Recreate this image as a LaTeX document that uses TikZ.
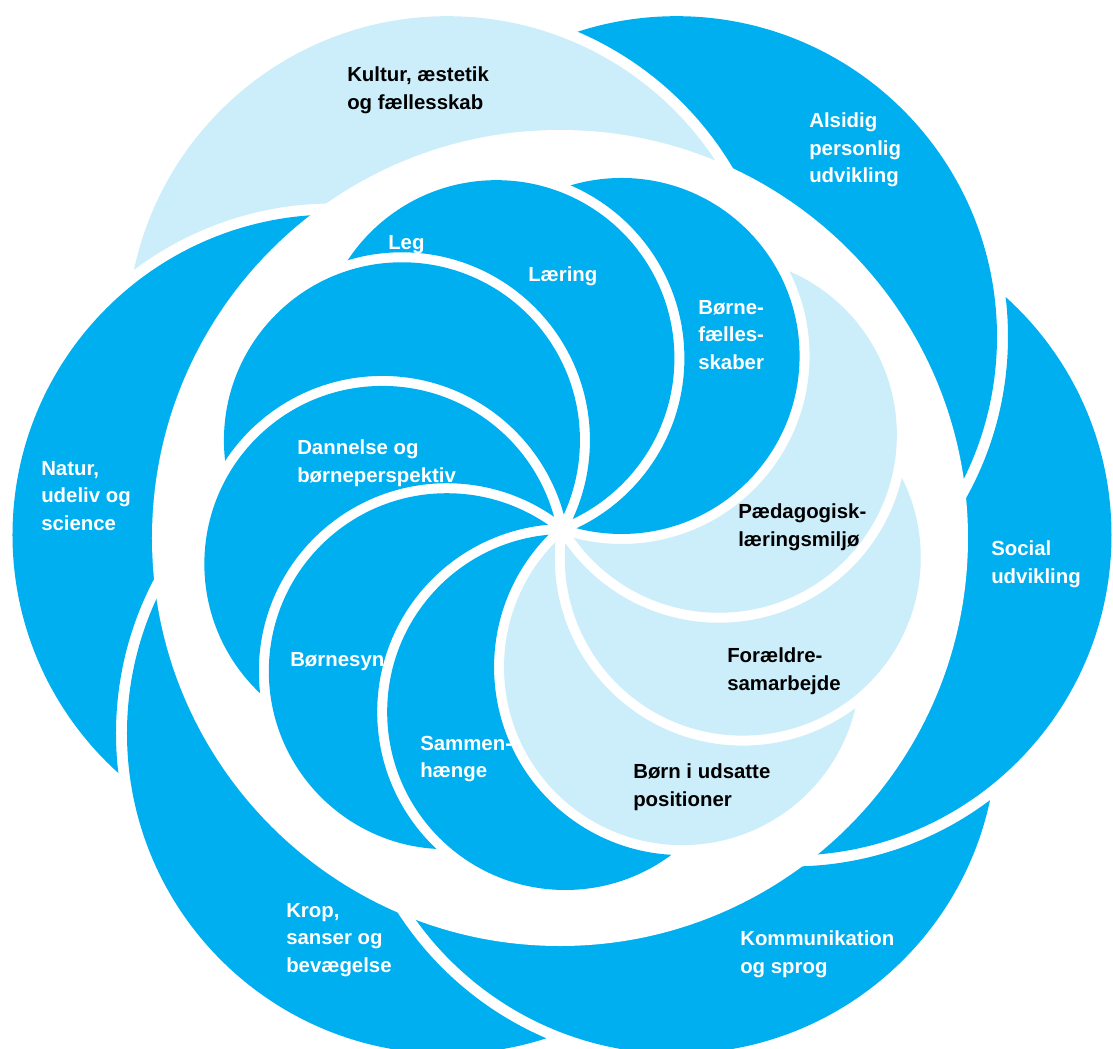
\documentclass[tikz,border=0pt]{standalone}
\usepackage{fontspec}
\setmainfont{Liberation Sans}
\definecolor{petalblue}{RGB}{0,175,240}
\definecolor{petallight}{RGB}{204,238,251}
\tikzset{
    lbl/.style = {anchor = west, align = left, inner sep = 0pt, text = white,
        font = \bfseries\fontsize{14.5}{19.6}\selectfont},
    dark lbl/.style = {lbl, text = black},
}
% fill, angle, angle of the petal lying on top, distance from the middle, radius, half gap
\newcommand{\crescent}[6]{%
    \begin{scope}
        \clip (-700, -700) -- (700, -700) -- (700, 700) -- (-700, 700) -- cycle
            (#3:#4) ++(#5 + #6, 0) arc[start angle = 0, end angle = -360, radius = #5 + #6];
        \fill[#1] (#2:#4) circle[radius = #5 - #6];
    \end{scope}
}

\begin{document}
\begin{tikzpicture}[x = 0.025cm, y = 0.025cm]
            \useasboundingbox (-562, -519) rectangle (551, 529);

            % outer ring
            \begin{scope}[shift = {(0, -6)}]
                \crescent{petalblue}{0}{60}{229}{326}{5.5}
                \crescent{petalblue}{60}{120}{229}{326}{5.5}
                \crescent{petallight}{120}{180}{229}{326}{5.5}
                \crescent{petalblue}{180}{240}{229}{326}{5.5}
                \crescent{petalblue}{240}{300}{229}{326}{5.5}
                \crescent{petalblue}{300}{360}{229}{326}{5.5}
            \end{scope}
            \fill[white] (-2, -9) circle[radius = 408];

            % inner spiral
            \crescent{petallight}{31}{71}{183}{183}{5}
            \crescent{petalblue}{71}{111}{183}{183}{5}
            \crescent{petalblue}{111}{151}{183}{183}{5}
            \crescent{petalblue}{151}{191}{183}{183}{5}
            \crescent{petalblue}{191}{231}{183}{183}{5}
            \crescent{petalblue}{231}{271}{183}{183}{5}
            \crescent{petalblue}{271}{311}{183}{183}{5}
            \crescent{petallight}{311}{351}{183}{183}{5}
            \crescent{petallight}{351}{391}{183}{183}{5}

            % labels, outer ring
            \node[dark lbl] (kultur) at (-215, 439) {Kultur, æstetik\\og fællesskab};
            \node[lbl] (alsidig) at (247, 379) {Alsidig\\personlig\\udvikling};
            \node[lbl] (social) at (429, -35) {Social\\udvikling};
            \node[lbl] (kommunikation) at (178, -425) {Kommunikation\\og sprog};
            \node[lbl] (krop) at (-276, -411) {Krop,\\sanser og\\bevægelse};
            \node[lbl] (natur) at (-521, 33) {Natur,\\udeliv og\\science};

            % labels, inner spiral
            \node[lbl] (leg) at (-174, 284) {Leg};
            \node[lbl] (laering) at (-34, 253) {Læring};
            \node[lbl] (boernefaellesskaber) at (136, 194) {Børne-\\fælles-\\skaber};
            \node[dark lbl] (laeringsmiljoe) at (176, 2) {Pædagogisk-\\læringsmiljø};
            \node[dark lbl] (foraeldre) at (165, -142) {Forældre-\\samarbejde};
            \node[dark lbl] (udsatte) at (71, -258) {Børn i udsatte\\positioner};
            \node[lbl] (sammenhaenge) at (-142, -230) {Sammen-\\hænge};
            \node[lbl] (boernesyn) at (-272, -133) {Børnesyn};
            \node[lbl] (dannelse) at (-265, 66) {Dannelse og\\børneperspektiv};
        \end{tikzpicture}
\end{document}
